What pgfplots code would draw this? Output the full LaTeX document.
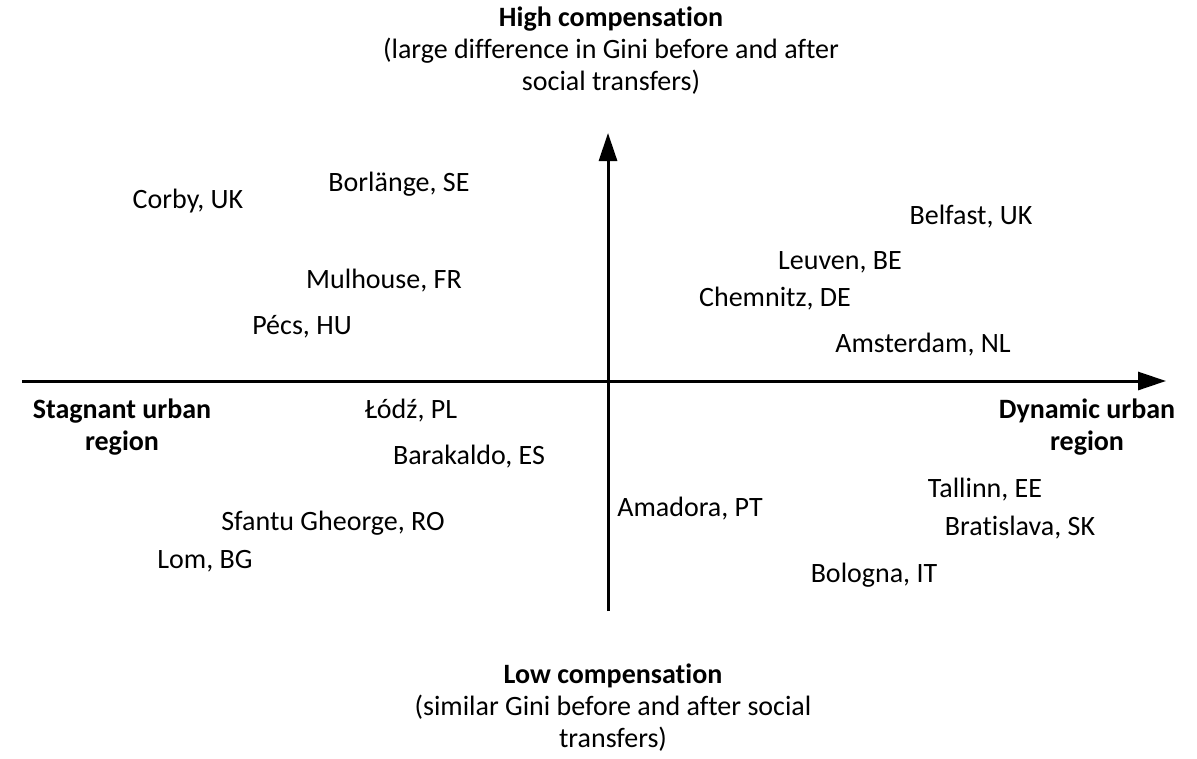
\documentclass[border=0pt]{standalone}
\usepackage{fontspec}
\setmainfont[Ligatures=NoCommon]{Carlito}
\usepackage{pgfplots}
\pgfplotsset{compat=1.18}
\usetikzlibrary{arrows.meta}
\begin{document}
\begin{tikzpicture}
\begin{axis}[
  scale only axis,
  width=598.5pt, height=375.5pt,
  xmin=0, xmax=1197, ymin=0, ymax=751,
  y dir=reverse,
  hide axis,
  clip=false,
]
\path (axis cs:0,0) rectangle (axis cs:1197,751);
% axes arrows
\draw[line width=1.5pt, -{Triangle[length=14pt,width=9pt]}] (axis cs:22,381) -- (axis cs:1166,381);
\draw[line width=1.5pt, -{Triangle[length=14pt,width=9pt]}] (axis cs:608,611) -- (axis cs:608,133);
% city labels
\addplot[only marks, mark=none, nodes near coords, point meta=explicit symbolic,
  nodes near coords align=center,
  every node near coord/.append style={anchor=center, inner sep=0pt, font=\fontsize{14}{16}\selectfont}]
  table[x=x, y=y, meta=label, col sep=semicolon, row sep=\\] {
x;y;label\\
188;201;Corby, UK\\
399;184;Borlänge, SE\\
971;217;Belfast, UK\\
840;262;Leuven, BE\\
384;281;Mulhouse, FR\\
775;299;Chemnitz, DE\\
302;327;Pécs, HU\\
923;345;Amsterdam, NL\\
411;411;Łódź, PL\\
469;457;Barakaldo, ES\\
985;490;Tallinn, EE\\
690;509;Amadora, PT\\
333;523;Sfantu Gheorge, RO\\
1020;528;Bratislava, SK\\
205;561;Lom, BG\\
874;575;Bologna, IT\\
};
% quadrant captions
\node[align=center, font=\fontsize{14}{16}\selectfont] at (axis cs:611,51)
  {\textbf{High compensation}\\(large difference in Gini before and after\\social transfers)};
\node[align=center, font=\fontsize{14}{16}\selectfont] at (axis cs:613,708)
  {\textbf{Low compensation}\\(similar Gini before and after social\\transfers)};
\node[align=center, font=\bfseries\fontsize{14}{16}\selectfont] at (axis cs:122,427)
  {Stagnant urban\\region};
\node[align=center, font=\bfseries\fontsize{14}{16}\selectfont] at (axis cs:1087,427)
  {Dynamic urban\\region};
\end{axis}
\end{tikzpicture}
\end{document}
